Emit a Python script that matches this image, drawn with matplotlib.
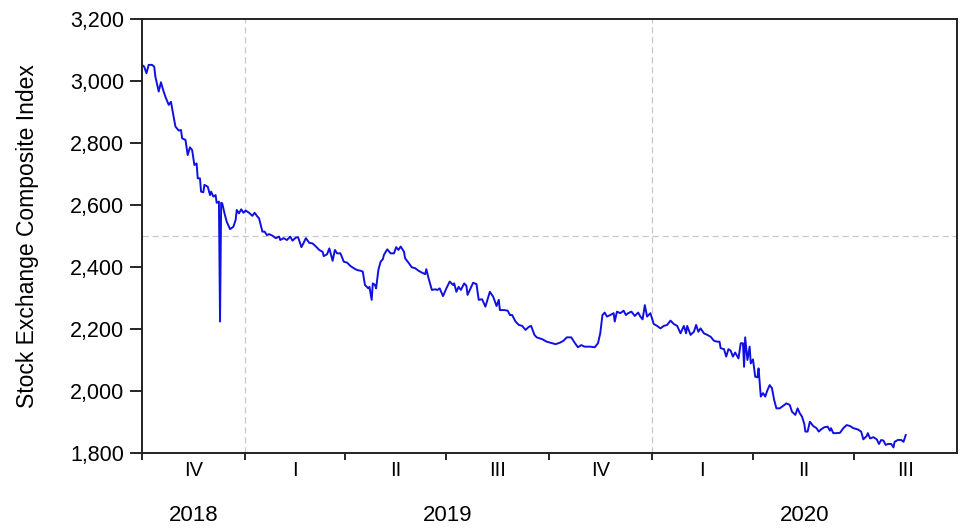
import pandas as pd
import matplotlib
matplotlib.use('Agg')
import matplotlib.pyplot as plt
import matplotlib.transforms as mtransforms

plt.rcParams['font.family'] = ['Liberation Sans', 'DejaVu Sans']

# days since 2018-10-01
days = [0, 2, 4, 6, 9, 11, 12, 15, 17, 19, 21, 24, 26, 27, 30, 33, 35, 36, 39, 41,
        43, 45, 47, 49, 50, 52, 53, 55, 56, 59, 61, 62, 64, 66, 67, 69, 70, 71, 72, 74,
        76, 79, 82, 84, 85, 87, 89, 91, 93, 96, 99, 101, 103, 105, 108, 110, 112, 114, 117, 120,
        123, 124, 127, 130, 133, 135, 138, 140, 143, 145, 147, 150, 153, 156, 159, 162, 163, 166, 168, 171,
        173, 175, 178, 181, 184, 187, 190, 193, 196, 198, 200, 203, 204, 206, 207, 209, 210, 212, 214, 216,
        217, 220, 223, 226, 228, 230, 232, 235, 236, 239, 242, 245, 248, 251, 254, 255, 257, 260, 263, 265,
        267, 270, 273, 276, 279, 280, 282, 284, 286, 289, 291, 292, 297, 300, 302, 305, 308, 312, 315, 318,
        320, 321, 325, 328, 330, 332, 335, 338, 341, 344, 347, 349, 352, 354, 359, 363, 368, 371, 375, 378,
        381, 385, 388, 391, 394, 397, 402, 406, 409, 411, 413, 415, 417, 420, 423, 424, 426, 429, 432, 434,
        436, 439, 442, 445, 447, 449, 451, 453, 456, 459, 462, 465, 468, 471, 474, 477, 480, 483, 486, 488,
        489, 492, 495, 497, 499, 501, 504, 507, 510, 513, 516, 518, 519, 522, 524, 526, 528, 530, 532, 535,
        537, 539, 540, 541, 543, 545, 546, 548, 550, 552, 553, 555, 557, 559, 561, 563, 565, 567, 569, 572,
        575, 578, 581, 583, 586, 588, 590, 592, 594, 595, 597, 599, 602, 605, 607, 609, 612, 615, 617, 618,
        620, 623, 626, 629, 632, 635, 638, 642, 645, 647, 650, 651, 653, 656, 659, 661, 663, 665, 667, 669,
        672, 674, 675, 678, 681, 683, 685]

index_values = [3052, 3046, 3025, 3052, 3052, 3046, 3014, 2966, 2996, 2971, 2949, 2923, 2933, 2912, 2853, 2840, 2842, 2815, 2810, 2761,
                2786, 2777, 2729, 2734, 2686, 2686, 2643, 2641, 2665, 2659, 2632, 2643, 2627, 2632, 2607, 2611, 2224, 2607, 2605, 2573,
                2546, 2522, 2530, 2552, 2584, 2573, 2586, 2575, 2582, 2575, 2565, 2575, 2565, 2557, 2514, 2514, 2503, 2506, 2501, 2493,
                2498, 2487, 2493, 2487, 2498, 2485, 2495, 2496, 2464, 2478, 2493, 2478, 2476, 2466, 2455, 2449, 2435, 2441, 2460, 2420,
                2455, 2444, 2444, 2417, 2414, 2403, 2396, 2390, 2388, 2385, 2342, 2331, 2336, 2294, 2347, 2342, 2331, 2390, 2417, 2425,
                2439, 2457, 2444, 2444, 2464, 2455, 2466, 2449, 2428, 2414, 2399, 2396, 2388, 2382, 2377, 2393, 2364, 2326, 2328, 2326,
                2331, 2306, 2331, 2353, 2342, 2347, 2320, 2336, 2326, 2347, 2339, 2310, 2349, 2345, 2294, 2296, 2272, 2320, 2304, 2274,
                2294, 2261, 2261, 2259, 2245, 2245, 2224, 2213, 2210, 2197, 2207, 2210, 2181, 2173, 2167, 2159, 2154, 2151, 2156, 2162,
                2173, 2173, 2156, 2141, 2148, 2143, 2143, 2141, 2154, 2186, 2245, 2253, 2240, 2245, 2251, 2224, 2256, 2251, 2259, 2245,
                2251, 2256, 2242, 2253, 2240, 2231, 2277, 2240, 2251, 2216, 2210, 2202, 2210, 2213, 2227, 2216, 2210, 2186, 2210, 2186,
                2210, 2181, 2191, 2213, 2191, 2202, 2186, 2181, 2175, 2162, 2159, 2159, 2138, 2135, 2111, 2135, 2130, 2111, 2124, 2105,
                2154, 2154, 2078, 2173, 2100, 2143, 2089, 2102, 2046, 2044, 2073, 1982, 1993, 1982, 2003, 2019, 2009, 1971, 1944, 1944,
                1952, 1960, 1955, 1933, 1923, 1944, 1928, 1917, 1894, 1869, 1869, 1901, 1887, 1880, 1869, 1876, 1883, 1885, 1872, 1880,
                1864, 1864, 1865, 1880, 1890, 1887, 1880, 1876, 1869, 1844, 1855, 1864, 1847, 1851, 1844, 1829, 1842, 1840, 1826, 1829,
                1829, 1818, 1836, 1842, 1842, 1836, 1858]

quarter_starts = ['2018-10-01', '2019-01-01', '2019-04-01', '2019-07-01', '2019-10-01',
                  '2020-01-01', '2020-04-01', '2020-07-01', '2020-10-01']
quarter_labels = ['IV', 'I', 'II', 'III', 'IV', 'I', 'II', 'III']
year_labels = ['2018', '2019', '2020']
year_spans = [('2018-10-01', '2019-01-01'), ('2019-01-01', '2020-01-01'), ('2020-01-01', '2020-10-01')]

dates = pd.Timestamp('2018-10-01') + pd.to_timedelta(days, unit='D')
qs = pd.to_datetime(quarter_starts)

fig = plt.figure(figsize=(9.6, 5.29), dpi=100)
ax = fig.add_axes([0.1479, 0.1437, 0.8490, 0.8204])

ax.plot(dates, index_values, color='#1010e0', linewidth=1.4)

ax.axhline(2500, color='#c8c8c8', linestyle=(0, (5, 3)), linewidth=0.9, zorder=0)
for d in ['2019-01-01', '2020-01-01']:
    ax.axvline(pd.Timestamp(d), color='#c8c8c8', linestyle=(0, (5, 3)), linewidth=0.9, zorder=0)

ax.set_xlim(qs[0], qs[-1])
ax.set_ylim(1800, 3200)
ax.set_yticks(range(1800, 3201, 200))
ax.set_yticklabels([f'{v:,}' for v in range(1800, 3201, 200)], fontsize=15.5)
ax.set_ylabel('Stock Exchange Composite Index', fontsize=16.5, labelpad=22)

# quarter ticks at boundaries, labels in the middle
ax.set_xticks(qs[:-1])
ax.set_xticklabels([])
mids = [qs[i] + (qs[i + 1] - qs[i]) / 2 for i in range(len(quarter_labels))]
ax.set_xticks(mids, minor=True)
ax.set_xticklabels(quarter_labels, minor=True, fontsize=14.5)
ax.tick_params(axis='x', which='minor', length=0, pad=6)
ax.tick_params(axis='x', which='major', length=5, width=1.2)
ax.tick_params(axis='y', length=9, width=1.2, pad=4)

trans = mtransforms.blended_transform_factory(ax.transData, ax.transAxes)
for lab, (a, b) in zip(year_labels, year_spans):
    a, b = pd.Timestamp(a), pd.Timestamp(b)
    ax.text(a + (b - a) / 2, -0.143, lab, transform=trans, ha='center', va='center', fontsize=16)

for s in ax.spines.values():
    s.set_linewidth(1.4)
    s.set_color('#222222')

fig.savefig('out.png', dpi=100)
